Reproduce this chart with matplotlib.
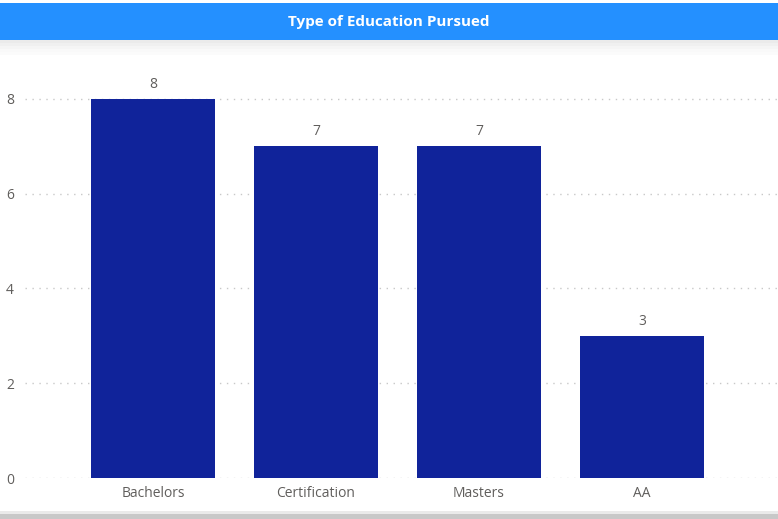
import matplotlib
matplotlib.use("Agg")
import matplotlib.pyplot as plt
from matplotlib.patches import Rectangle

categories = ["Bachelors", "Certification", "Masters", "AA"]
values = [8, 7, 7, 3]
yticks = [0, 2, 4, 6, 8]

plt.rcParams['font.family'] = ['Open Sans', 'DejaVu Sans']

W, H = 778, 519
fig = plt.figure(figsize=(W/100, H/100), dpi=100)
fig.patch.set_facecolor("white")

# header band
fig.patches.append(Rectangle((0, 1-40/H), 1, 37/H, transform=fig.transFigure,
                             facecolor="#2490FF", edgecolor="none", zorder=0))
# subtle shadow under header
for i, a in enumerate([0.08, 0.06, 0.04, 0.025, 0.015]):
    fig.patches.append(Rectangle((0, 1-(43+3*i)/H), 1, 3/H, transform=fig.transFigure,
                                 facecolor="#000000", alpha=a, edgecolor="none", zorder=0))
fig.text(0.5, 1-22/H, "Type of Education Pursued", ha="center", va="center",
         color="white", fontsize=11, fontweight="bold")
# bottom shadow
fig.patches.append(Rectangle((0, 0), 1, 5/H, transform=fig.transFigure,
                             facecolor="#C8C8C8", edgecolor="none", zorder=0))
fig.patches.append(Rectangle((0, 5/H), 1, 3/H, transform=fig.transFigure,
                             facecolor="#EAEAEA", edgecolor="none", zorder=0))

ax_left, ax_right = 25, 778
ax_bottom, ax_top = 478, 56
ax = fig.add_axes([ax_left/W, 1-ax_bottom/H, (ax_right-ax_left)/W, (ax_bottom-ax_top)/H])
ax.set_facecolor("none")

x = list(range(len(categories)))
bars = ax.bar(x, values, width=0.76, color="#10239A", zorder=3)
for xi, v in zip(x, values):
    ax.text(xi, v + 0.15, str(v), ha="center", va="bottom", fontsize=10, color="#605E5C")

ax.set_xlim(-0.785, 3.834)
ax.set_ylim(0, 8.9)
ax.set_yticks(yticks)
ax.set_yticklabels([str(t) for t in yticks])
ax.set_xticks(x)
ax.set_xticklabels(categories)
ax.tick_params(axis="both", length=0, labelsize=10, labelcolor="#605E5C")
ax.tick_params(axis="y", pad=8)
ax.tick_params(axis="x", pad=6)
for yl in yticks:
    ax.axhline(yl, color="#C8C8C8", linestyle=(0, (1, 4)), linewidth=1, zorder=1)
for s in ax.spines.values():
    s.set_visible(False)

fig.savefig("out.png", dpi=100)
